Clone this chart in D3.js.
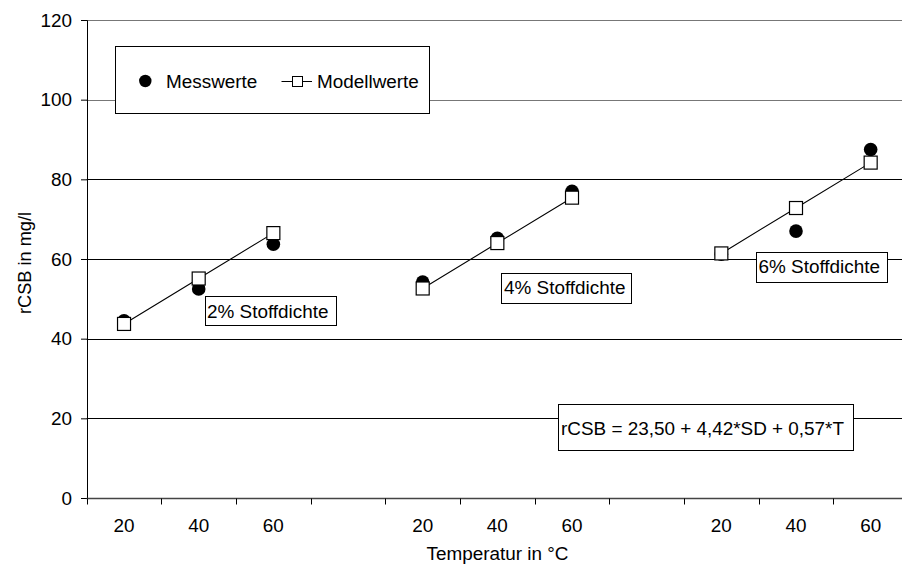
<!DOCTYPE html>
<html>
<head>
<meta charset="utf-8">
<script src="https://cdn.jsdelivr.net/npm/d3@7/dist/d3.min.js"></script>
<style>
  html, body { margin: 0; padding: 0; background: #fff; }
  svg { display: block; }
  text { font-family: "Liberation Sans", Arial, sans-serif; fill: #000; }
</style>
</head>
<body>
<svg id="chart" width="902" height="565"></svg>
<script>
// Stoffdichte groups and temperature levels (°C)
const groups = ["2% Stoffdichte", "4% Stoffdichte", "6% Stoffdichte"];
const temps = [20, 40, 60];
// x categories: three temperatures per group, one empty slot between groups
const xCategories = ["20", "40", "60", "", "20", "40", "60", "", "20", "40", "60"];
// measured rCSB (mg/l), one row per group
const messwerte = [
  [44.5, 52.5, 63.7],
  [54.2, 65.2, 77.0],
  [61.2, 67.0, 87.5]
];
// model rCSB (mg/l), one row per group
const modellwerte = [
  [43.7, 55.1, 66.5],
  [52.6, 64.0, 75.4],
  [61.4, 72.8, 84.2]
];
const yTicks = [0, 20, 40, 60, 80, 100, 120];
const equation = "rCSB = 23,50 + 4,42*SD + 0,57*T";

const FONT = 18.9;
const svg = d3.select("#chart");

const x = d3.scaleBand()
  .domain(d3.range(xCategories.length))
  .range([86.7, 908])
  .padding(0);
const y = d3.scaleLinear().domain([0, 120]).range([498, 20]);

// horizontal gridlines
svg.append("g").selectAll("line")
  .data(yTicks.filter(d => d > 0))
  .join("line")
  .attr("x1", 86.7).attr("x2", 908)
  .attr("y1", d => Math.round(y(d)) + 0.5).attr("y2", d => Math.round(y(d)) + 0.5)
  .attr("stroke", d => d >= 100 ? "#777" : "#000")
  .attr("stroke-width", 1);

// y axis
const yAxis = svg.append("g")
  .attr("transform", "translate(87,0)")
  .call(d3.axisLeft(y).tickValues(yTicks).tickSize(6).tickPadding(9).tickFormat(d3.format("d")));
yAxis.select(".domain").attr("stroke", "#000");
yAxis.selectAll(".tick line").attr("stroke", "#000");
yAxis.selectAll("text").attr("font-size", FONT).attr("font-family", "Liberation Sans, Arial, sans-serif").attr("fill", "#000");

// x axis: ticks on category boundaries, labels centred in each band
const xAxisG = svg.append("g").attr("transform", `translate(0,${Math.round(y(0)) + 0.5})`);
xAxisG.append("line")
  .attr("x1", 86.7).attr("x2", 908)
  .attr("stroke", "#444").attr("stroke-width", 1.4);
xAxisG.selectAll("line.tk")
  .data(d3.range(xCategories.length + 1))
  .join("line").attr("class", "tk")
  .attr("x1", i => Math.round(x.range()[0] + i * x.bandwidth()) + 0.5)
  .attr("x2", i => Math.round(x.range()[0] + i * x.bandwidth()) + 0.5)
  .attr("y1", 0).attr("y2", 6)
  .attr("stroke", "#000");
xAxisG.selectAll("text")
  .data(xCategories)
  .join("text")
  .attr("x", (d, i) => x(i) + x.bandwidth() / 2)
  .attr("y", 33)
  .attr("text-anchor", "middle")
  .attr("font-size", FONT)
  .text(d => d);

// axis titles
svg.append("text")
  .attr("x", 497.5).attr("y", 560)
  .attr("text-anchor", "middle")
  .attr("font-size", FONT)
  .text("Temperatur in °C");
svg.append("text")
  .attr("transform", "translate(31,263) rotate(-90)")
  .attr("text-anchor", "middle")
  .attr("font-size", 18.2)
  .text("rCSB in mg/l");

// measured points
const pts = [];
groups.forEach((g, gi) => temps.forEach((t, ti) => {
  pts.push({ idx: gi * 4 + ti, mess: messwerte[gi][ti], modell: modellwerte[gi][ti] });
}));
const cx = d => x(d.idx) + x.bandwidth() / 2;

svg.append("g").selectAll("circle")
  .data(pts)
  .join("circle")
  .attr("cx", cx).attr("cy", d => y(d.mess))
  .attr("r", 6.8)
  .attr("fill", "#000");

// model lines, one per group
const line = d3.line().x(cx).y(d => y(d.modell));
svg.append("g").selectAll("path")
  .data(groups.map((g, gi) => pts.slice(gi * 3, gi * 3 + 3)))
  .join("path")
  .attr("d", line)
  .attr("fill", "none")
  .attr("stroke", "#000")
  .attr("stroke-width", 1.1);

// model squares
const S = 13;
svg.append("g").selectAll("rect")
  .data(pts)
  .join("rect")
  .attr("x", d => cx(d) - S / 2).attr("y", d => y(d.modell) - S / 2)
  .attr("width", S).attr("height", S)
  .attr("fill", "#fff").attr("stroke", "#000").attr("stroke-width", 1.2);

// framed text boxes
function labelBox(x0, y0, w, h, tx, ty, txt) {
  svg.append("rect")
    .attr("x", x0 + 0.5).attr("y", y0 + 0.5).attr("width", w).attr("height", h)
    .attr("fill", "#fff").attr("stroke", "#000").attr("stroke-width", 1);
  svg.append("text").attr("x", tx).attr("y", ty).attr("font-size", FONT).text(txt);
}
labelBox(205, 296, 131, 29, 207, 317.5, groups[0]);
labelBox(501, 273, 130, 30, 504, 294, groups[1]);
labelBox(756, 252, 131, 30, 758.5, 273, groups[2]);
labelBox(558, 404, 295, 46, 561, 435, equation);

// legend
svg.append("rect")
  .attr("x", 115.5).attr("y", 46.5).attr("width", 314).attr("height", 67)
  .attr("fill", "#fff").attr("stroke", "#000").attr("stroke-width", 1);
svg.append("circle").attr("cx", 145.3).attr("cy", 81).attr("r", 6.2).attr("fill", "#000");
svg.append("text").attr("x", 166).attr("y", 87.5).attr("font-size", FONT).text("Messwerte");
svg.append("line").attr("x1", 281.5).attr("x2", 312).attr("y1", 81.5).attr("y2", 81.5)
  .attr("stroke", "#000").attr("stroke-width", 1);
svg.append("rect").attr("x", 292.5).attr("y", 76.5).attr("width", 10).attr("height", 10)
  .attr("fill", "#fff").attr("stroke", "#000").attr("stroke-width", 1);
svg.append("text").attr("x", 317).attr("y", 87.5).attr("font-size", FONT).text("Modellwerte");
</script>
</body>
</html>
